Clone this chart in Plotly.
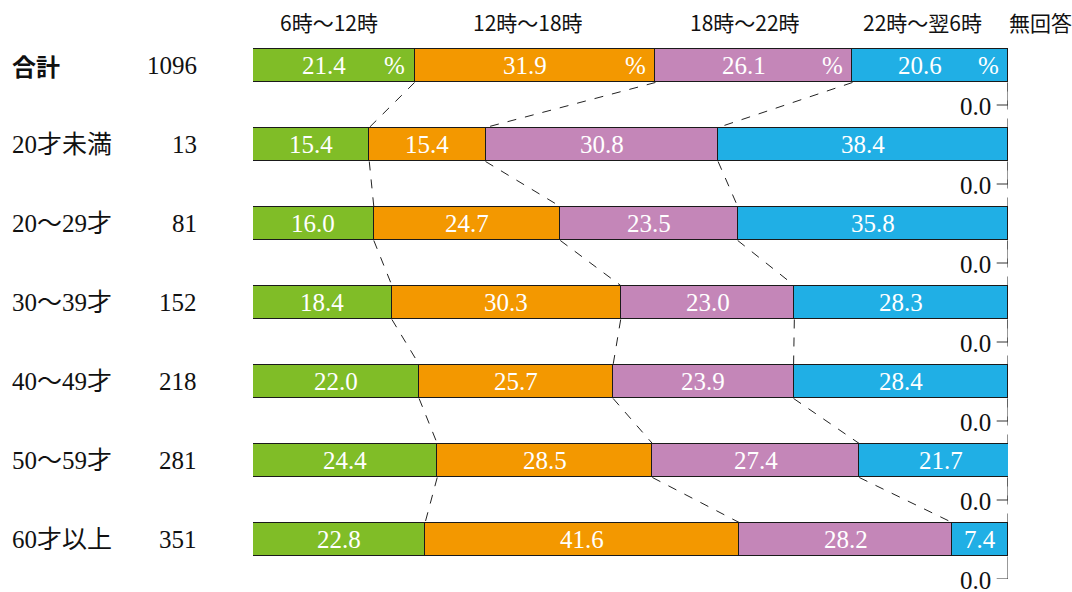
import plotly.graph_objects as go

categories = ["合計", "20才未満", "20～29才", "30～39才", "40～49才", "50～59才", "60才以上"]
counts = ["1096", "13", "81", "152", "218", "281", "351"]
series_names = ["6時～12時", "12時～18時", "18時～22時", "22時～翌6時", "無回答"]
v_morning = [21.4, 15.4, 16.0, 18.4, 22.0, 24.4, 22.8]
v_afternoon = [31.9, 15.4, 24.7, 30.3, 25.7, 28.5, 41.6]
v_evening = [26.1, 30.8, 23.5, 23.0, 23.9, 27.4, 28.2]
v_night = [20.6, 38.4, 35.8, 28.3, 28.4, 21.7, 7.4]
v_noanswer = [0.0, 0.0, 0.0, 0.0, 0.0, 0.0, 0.0]
colors = ["#80BD27", "#F39800", "#C486B8", "#20AFE5", "#FFFFFF"]

series = [v_morning, v_afternoon, v_evening, v_night]
n = len(categories)
ypos = list(range(n))
BAR_H = 0.43

serif = "Liberation Serif, Noto Sans CJK JP, serif"
sans = "Noto Sans CJK JP, sans-serif"
NUM_SIZE = 25

fig = go.Figure()
for s, name, col in zip(series, series_names, colors):
    fig.add_trace(go.Bar(
        y=ypos, x=s, orientation="h", name=name, width=BAR_H,
        marker=dict(color=col, line=dict(color="#1a1a1a", width=1)),
        hoverinfo="skip", showlegend=False,
    ))

# cumulative boundaries
cums = []
for i in range(n):
    c = [0.0]
    for s in series:
        c.append(c[-1] + s[i])
    cums.append(c)

shapes = []
annotations = []
# dashed connectors
for i in range(n - 1):
    for k in range(1, 5):
        x0 = cums[i][k] if k < 4 else 100
        x1 = cums[i + 1][k] if k < 4 else 100
        shapes.append(dict(type="line", xref="x", yref="y",
                           x0=x0, y0=i + BAR_H / 2, x1=x1, y1=i + 1 - BAR_H / 2,
                           line=dict(color="#222", width=1, dash="dash")))

# value labels
for i in range(n):
    for k, s in enumerate(series):
        left, right = cums[i][k], cums[i][k + 1]
        if i == 0:
            pct_x = right - 2.6
            xv = (left + pct_x) / 2
            annotations.append(dict(x=pct_x, y=i, xref="x", yref="y", text="%",
                                    showarrow=False, font=dict(family=serif, size=NUM_SIZE, color="white")))
        else:
            xv = (left + right) / 2
        annotations.append(dict(x=xv, y=i, xref="x", yref="y", text=f"{s[i]:.1f}",
                                showarrow=False, font=dict(family=serif, size=NUM_SIZE, color="white")))
    # no-answer label with leader
    ly = i + 0.5
    shapes.append(dict(type="line", xref="x", yref="y", x0=100, y0=i + BAR_H / 2, x1=100, y1=ly,
                       line=dict(color="#333", width=1)))
    shapes.append(dict(type="line", xref="x", yref="y", x0=98.5, y0=ly, x1=100, y1=ly,
                       line=dict(color="#333", width=1)))
    annotations.append(dict(x=98.05, y=ly, xref="x", yref="y", text=f"{v_noanswer[i]:.1f}",
                            xanchor="right", showarrow=False, height=20, yshift=-1,
                            font=dict(family=serif, size=NUM_SIZE, color="#111")))
    # category and count
    if i == 0:
        annotations.append(dict(x=-0.322, y=i, xref="paper", yref="y", text="<b>合計</b>",
                                xanchor="left", showarrow=False,
                                font=dict(family=sans, size=24, color="#111")))
    else:
        annotations.append(dict(x=-0.322, y=i, xref="paper", yref="y", text=categories[i],
                                xanchor="left", showarrow=False,
                                font=dict(family=serif, size=NUM_SIZE, color="#111")))
    annotations.append(dict(x=-0.072, y=i, xref="paper", yref="y", text=counts[i],
                            xanchor="right", showarrow=False,
                            font=dict(family=serif, size=NUM_SIZE, color="#111")))

# headers
header_px = [329, 528, 745, 922, 1040]
for name, px in zip(series_names, header_px):
    annotations.append(dict(x=(px - 253) / 755, y=1.0, xref="paper", yref="paper",
                            text=name, showarrow=False, xanchor="center", yanchor="middle",
                            yshift=4, height=24,
                            font=dict(family=sans, size=21, color="#111")))

fig.update_layout(
    width=1072, height=592,
    margin=dict(l=253, r=64, t=26, b=13),
    barmode="stack", bargap=0,
    plot_bgcolor="white", paper_bgcolor="white",
    xaxis=dict(range=[0, 100], visible=False, fixedrange=True),
    yaxis=dict(range=[n - 0.5, -0.5], visible=False, fixedrange=True),
    shapes=shapes, annotations=annotations,
)
fig.write_html("out.html", config={"displayModeBar": False},
               post_script="document.body.style.margin='0';document.body.style.overflow='hidden';")
